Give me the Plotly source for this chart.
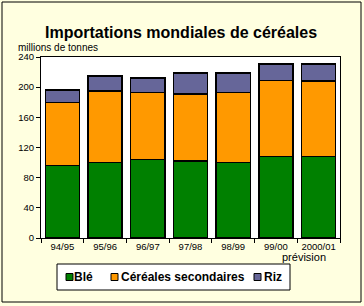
import plotly.graph_objects as go

# ── Data ───────────────────────────────────────────────────────
campagnes = ["94/95", "95/96", "96/97", "97/98", "98/99", "99/00", "2000/01"]
ble = [96, 100, 104, 102, 100, 108, 108]
cereales_sec = [84, 95, 89, 89, 93, 101, 100]
riz = [16, 20, 19, 28, 26, 22, 23]
y_ticks = [0, 40, 80, 120, 160, 200, 240]

FONT = "Arial, Liberation Sans, sans-serif"
SERIES = [
    ("Blé", ble, "#008000"),
    ("Céréales secondaires", cereales_sec, "#FF9900"),
    ("Riz", riz, "#666699"),
]

# plot area in pixels: x 41..340, y 57..238
def px(x):
    return (x - 41) / 299


def py(y):
    return (238 - y) / 181


fig = go.Figure()
for name, vals, color in SERIES:
    fig.add_trace(go.Bar(
        x=campagnes, y=vals, name=name, showlegend=False,
        marker=dict(color=color, line=dict(color="black", width=1.5)),
    ))

# outer frame
fig.add_shape(type="rect", xref="paper", yref="paper",
              x0=px(2), x1=px(361), y0=py(302), y1=py(2),
              line=dict(color="black", width=1), layer="below")

# ── Hand-drawn legend (compact, like the original) ─────────────
fig.add_shape(type="rect", xref="paper", yref="paper",
              x0=px(57), x1=px(290), y0=py(290), y1=py(264),
              line=dict(color="black", width=1), fillcolor="white")
legend_pos = [(66, 72), (111, 119), (254, 262)]
for (name, _, color), (sx, tx) in zip(SERIES, legend_pos):
    fig.add_shape(type="rect", xref="paper", yref="paper",
                  x0=px(sx), x1=px(sx + 7), y0=py(280.5), y1=py(273.5),
                  line=dict(color="black", width=1), fillcolor=color)
    fig.add_annotation(text=f"<b>{name}</b>", xref="paper", yref="paper",
                       x=px(tx), y=py(277), xanchor="left", yanchor="middle",
                       showarrow=False,
                       font=dict(size=12, color="black", family=FONT))

fig.add_annotation(text="<b>Importations mondiales de céréales</b>",
                   xref="paper", yref="paper", x=px(181), y=py(22),
                   showarrow=False, font=dict(size=16, color="black", family=FONT))
fig.add_annotation(text="millions de tonnes", xref="paper", yref="paper",
                   x=px(17), y=py(40.5), xanchor="left", showarrow=False,
                   borderpad=0,
                   font=dict(size=10, color="black", family=FONT))
fig.add_annotation(text="prévision", xref="paper", yref="paper",
                   x=px(328), y=py(265), showarrow=False,
                   font=dict(size=11, color="black", family=FONT))

fig.update_layout(
    barmode="stack", bargap=0.2,
    width=364, height=306,
    margin=dict(l=41, r=24, t=57, b=68, autoexpand=False),
    paper_bgcolor="#FFFFE0", plot_bgcolor="white",
    font=dict(family=FONT, size=10, color="black"),
    showlegend=False,
    xaxis=dict(showline=True, linecolor="black", linewidth=1, mirror=True,
               ticks="outside", tickson="boundaries", ticklen=4,
               tickcolor="black", tickangle=0, tickfont=dict(size=9.5)),
    yaxis=dict(range=[0, 240], tickvals=y_ticks, showline=True,
               linecolor="black", linewidth=1, mirror=True, ticks="outside",
               ticklen=4, tickcolor="black", showgrid=False, zeroline=False,
               tickfont=dict(size=9.5)),
)

# drop the page's default body margin so the figure sits at the window's corner
fig.write_html("out.html", config={"displayModeBar": False},
               post_script="document.body.style.margin='0';")
